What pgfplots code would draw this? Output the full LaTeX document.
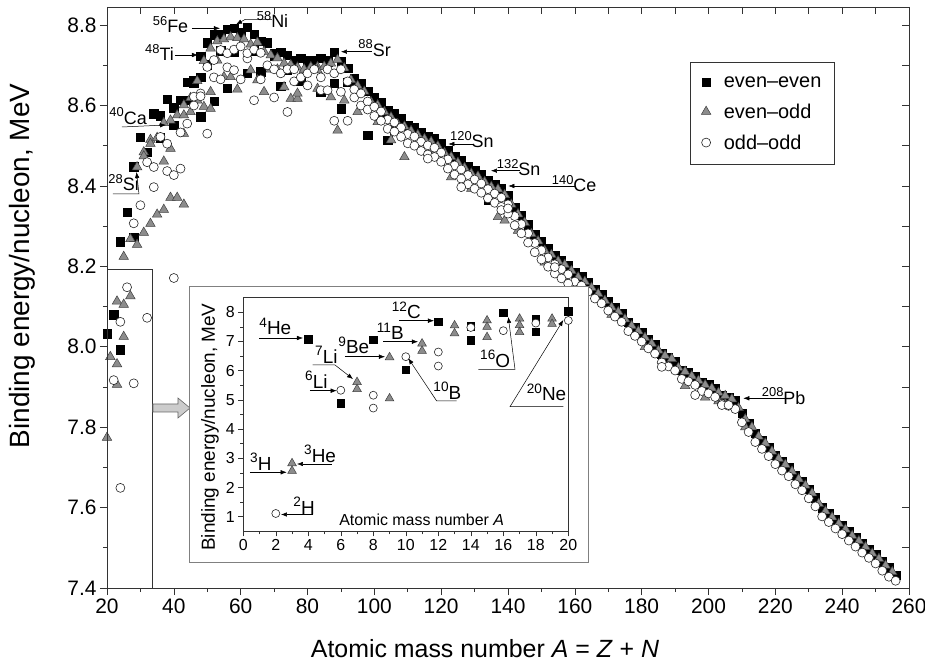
\documentclass[border=0pt]{standalone}
\usepackage{fontspec}
\setmainfont{Liberation Sans}
\usepackage{graphicx}
\usepackage{pgfplots}
\pgfplotsset{compat=1.18}
\usetikzlibrary{arrows.meta}

\definecolor{frame}{gray}{0.2}
\definecolor{trifill}{gray}{0.55}
\newcommand{\fs}[1]{\fontsize{#1}{#1}\selectfont}
\newcommand{\iso}[2]{\raisebox{0.42em}{\scalebox{0.72}{#1}}#2}

\pgfplotsset{
  ee/.style={only marks, mark=square*, mark size=4.2bp, mark options={fill=black, draw=black}},
  eo/.style={only marks, mark=triangle*, mark size=5.5bp, mark options={fill=trifill, draw=black!75, line width=0.5bp}},
  oo/.style={only marks, mark=*, mark size=4.5bp, mark options={fill=white, draw=black!85, line width=0.6bp}},
}

\begin{document}
\begin{tikzpicture}
\useasboundingbox (-107bp,-76bp) rectangle (818bp,588bp);

% main panel
\begin{axis}[
  scale only axis, width=802bp, height=581bp,
  xmin=20, xmax=260, ymin=7.4, ymax=8.845,
  clip=false,
  axis line style={frame, line width=0.6bp},
  xtick={20,40,...,260}, minor xtick={30,50,...,250},
  ytick={7.4,7.6,8.0,8.2,8.4,8.6,8.8,7.8}, minor ytick={7.5,7.7,7.9,8.1,8.3,8.5,8.7},
  tick pos=left, tick align=outside,
  major tick length=7bp, minor tick length=4bp,
  tick style={frame, line width=0.6bp},
  ticklabel style={font=\fs{21}},
  /pgf/number format/assume math mode=true,
  yticklabel style={/pgf/number format/fixed, /pgf/number format/fixed zerofill, /pgf/number format/precision=1},
  legend style={at={(0.727,0.905)}, anchor=north west, draw=frame, line width=0.6bp,
    font=\fs{20}, inner xsep=11bp, inner ysep=12bp, row sep=11bp, column sep=11bp, cells={anchor=west}},
]
% even-even
\addplot[ee] coordinates {
(20,8.032)(22,8.080)(24,7.993)(24,8.261)(26,8.334)(28,8.272)(28,8.448)(30,8.521)(32,8.484)(34,8.580)
(36,8.575)(36,8.520)(38,8.615)(40,8.595)(40,8.551)(42,8.613)(44,8.658)(44,8.613)(46,8.663)(46,8.656)
(48,8.671)(48,8.723)(48,8.572)(50,8.756)(50,8.701)(52,8.776)(52,8.610)(54,8.778)(54,8.736)(56,8.790)
(56,8.643)(58,8.792)(58,8.732)(60,8.781)(62,8.795)(62,8.680)(64,8.777)(64,8.736)(66,8.760)(66,8.684)
(68,8.756)(70,8.730)(70,8.722)(72,8.732)(72,8.648)(74,8.725)(74,8.688)(76,8.711)(76,8.705)(78,8.718)
(78,8.661)(80,8.711)(80,8.693)(82,8.711)(82,8.693)(84,8.717)(84,8.634)(86,8.712)(86,8.708)(88,8.733)
(88,8.655)(90,8.710)(90,8.592)(92,8.693)(92,8.658)(94,8.667)(94,8.662)(96,8.654)(96,8.635)(98,8.635)
(98,8.526)(100,8.619)(100,8.605)(102,8.607)(102,8.581)(104,8.587)(104,8.514)(106,8.580)(106,8.539)
(108,8.567)(108,8.550)(110,8.551)(112,8.545)(114,8.532)(116,8.523)(118,8.517)(120,8.505)(122,8.488)
(124,8.473)(126,8.463)(128,8.449)(130,8.438)(132,8.428)(134,8.414)(134,8.366)(136,8.403)(138,8.393)
(140,8.376)(142,8.347)(144,8.327)(146,8.304)(148,8.280)(150,8.262)(152,8.244)(154,8.227)(156,8.215)
(158,8.202)(160,8.184)(162,8.174)(164,8.159)(166,8.142)(168,8.130)(170,8.112)(172,8.097)(174,8.084)
(176,8.061)(178,8.049)(180,8.035)(182,8.018)(184,8.005)(186,7.983)(188,7.973)(190,7.963)(192,7.942)
(194,7.936)(196,7.927)(198,7.912)(200,7.906)(202,7.897)(204,7.880)(206,7.875)(208,7.867)(210,7.834)
(212,7.810)(214,7.785)(216,7.768)(218,7.750)(220,7.730)(222,7.714)(224,7.700)(226,7.680)(228,7.665)
(230,7.645)(232,7.625)(234,7.600)(236,7.586)(238,7.570)(240,7.556)(242,7.540)(244,7.525)(246,7.510)
(248,7.497)(250,7.483)(252,7.465)(254,7.450)(256,7.432)
};
\addlegendentry{even–even}
% even-odd
\addplot[eo] coordinates {
(20,7.774)(21,7.975)(23,7.957)(23,7.906)(23,8.113)(25,8.105)(25,8.025)(27,8.126)(25,8.224)(27,8.268)
(29,8.254)(31,8.284)(33,8.306)(35,8.329)(37,8.341)(39,8.371)(41,8.371)(43,8.354)(29,8.447)(31,8.484)
(31,8.474)(33,8.515)(33,8.505)(35,8.520)(37,8.557)(37,8.461)(39,8.563)(39,8.493)(41,8.576)(43,8.576)
(43,8.530)(45,8.584)(43,8.601)(45,8.619)(47,8.613)
(47,8.661)(49,8.711)(51,8.742)(53,8.760)(55,8.765)(57,8.770)(59,8.768)(61,8.765)(63,8.752)(65,8.757)
(67,8.734)(69,8.725)(71,8.718)(73,8.705)(75,8.701)(77,8.695)(79,8.688)(81,8.696)(83,8.696)(85,8.697)
(87,8.705)(89,8.714)(91,8.693)(93,8.664)(95,8.649)(97,8.635)(99,8.609)(101,8.601)(103,8.584)(105,8.571)
(107,8.554)(109,8.548)(111,8.537)(113,8.527)(115,8.517)(117,8.510)(119,8.499)(121,8.482)(123,8.472)
(125,8.458)(127,8.445)(129,8.431)(131,8.424)(133,8.410)(135,8.398)(137,8.392)(139,8.378)(141,8.354)
(143,8.330)(145,8.309)(147,8.281)(149,8.263)(151,8.239)(153,8.229)(155,8.213)(157,8.204)(159,8.189)
(161,8.173)(163,8.162)(165,8.147)(167,8.132)(169,8.115)(171,8.098)(173,8.087)(175,8.069)(177,8.052)
(179,8.039)(181,8.023)(183,8.008)(185,7.991)(187,7.978)(189,7.970)(191,7.948)(193,7.938)(195,7.927)
(197,7.916)(199,7.905)(201,7.897)(203,7.886)(205,7.878)(207,7.870)(209,7.848)(211,7.820)(213,7.800)
(215,7.777)(217,7.760)(219,7.740)(221,7.722)(223,7.707)(225,7.690)(227,7.671)(229,7.655)(231,7.636)
(233,7.610)(235,7.591)(237,7.576)(239,7.560)(241,7.546)(243,7.530)(245,7.517)(247,7.502)(249,7.486)
(251,7.473)(253,7.456)(255,7.440)
(49,8.597)(51,8.592)(51,8.634)(53,8.712)(55,8.671)(57,8.671)(59,8.640)(63,8.688)(65,8.663)(67,8.634)
(69,8.690)(71,8.690)(73,8.646)(75,8.617)(77,8.617)(77,8.630)(79,8.690)(83,8.642)(83,8.688)(87,8.621)
(89,8.538)(91,8.613)(95,8.584)(101,8.559)(105,8.514)(109,8.472)(113,8.500)(117,8.480)(123,8.422)
(129,8.393)(137,8.323)(139,8.314)(143,8.289)(151,8.210)(157,8.173)(163,8.140)(171,8.080)(181,8.000)
(193,7.903)(199,7.874)(203,7.865)(205,7.858)(211,7.800)
};
\addlegendentry{even–odd}
% odd-odd
\addplot[oo] coordinates {
(22,7.917)(24,7.649)(24,8.062)(26,8.148)(28,7.909)(28,8.307)(30,8.352)(32,8.072)(32,8.459)(34,8.397)
(34,8.447)(36,8.522)(38,8.437)(38,8.505)(40,8.171)(40,8.427)(42,8.443)(42,8.533)(44,8.555)(46,8.600)
(48,8.630)(50,8.530)(46,8.622)(48,8.623)(50,8.696)(52,8.670)(52,8.713)(54,8.665)(54,8.738)(56,8.695)
(56,8.730)(58,8.688)(58,8.739)(60,8.665)(60,8.747)(62,8.717)(62,8.730)(64,8.613)(64,8.739)(66,8.665)
(66,8.731)(68,8.700)(70,8.620)(70,8.690)(72,8.680)(74,8.584)(74,8.690)(76,8.690)(76,8.660)(78,8.670)
(80,8.680)(80,8.650)(82,8.690)(84,8.638)(84,8.670)(86,8.638)(86,8.690)(88,8.562)(88,8.680)(90,8.634)
(90,8.690)(92,8.562)(92,8.660)(94,8.640)(94,8.620)(96,8.630)(96,8.600)(98,8.610)(98,8.590)
(100,8.597)(102,8.585)(104,8.565)(106,8.558)(108,8.545)(110,8.529)(112,8.523)(114,8.510)(116,8.501)
(118,8.495)(120,8.483)(122,8.466)(124,8.451)(126,8.441)(128,8.427)(130,8.416)(132,8.406)(134,8.392)
(136,8.381)(138,8.371)(140,8.354)(142,8.325)(144,8.305)(146,8.282)(148,8.258)(150,8.240)(152,8.222)
(154,8.205)(156,8.193)(158,8.180)(160,8.162)(162,8.152)(164,8.137)(166,8.120)(168,8.108)(170,8.090)
(172,8.075)(174,8.062)(176,8.039)(178,8.027)(180,8.013)(182,7.996)(184,7.983)(186,7.961)(188,7.951)
(190,7.941)(192,7.920)(194,7.914)(196,7.905)(198,7.890)(200,7.884)(202,7.875)(204,7.858)(206,7.853)
(208,7.845)(210,7.812)(212,7.788)(214,7.763)(216,7.746)(218,7.728)(220,7.708)(222,7.692)(224,7.678)
(226,7.658)(228,7.643)(230,7.623)(232,7.603)(234,7.578)(236,7.564)(238,7.548)(240,7.534)(242,7.518)
(244,7.503)(246,7.488)(248,7.475)(250,7.461)(252,7.443)(254,7.428)(256,7.418)
(100,8.574)(102,8.562)(104,8.542)(106,8.535)(108,8.522)(110,8.506)(112,8.500)(114,8.487)(116,8.478)
(118,8.472)(120,8.460)(122,8.443)(124,8.428)(126,8.418)(128,8.404)(130,8.393)(132,8.383)(134,8.369)
(136,8.358)(138,8.348)(140,8.331)(142,8.302)(144,8.282)(146,8.259)(148,8.235)(150,8.217)(152,8.199)
(154,8.182)(156,8.170)(158,8.157)(160,8.139)
(116,8.468)(126,8.397)(138,8.340)(140,8.344)(154,8.198)(186,7.950)(196,7.880)(204,7.855)(206,7.855)
};
\addlegendentry{odd–odd}
\end{axis}

% top and right ticks, pointing inwards
\begin{axis}[
  scale only axis, width=802bp, height=581bp,
  xmin=20, xmax=260, ymin=7.4, ymax=8.845,
  axis line style={draw=none},
  xtick={20,30,...,260}, ytick={7.4,7.5,7.6,7.7,7.8,7.9,8.0,8.1,8.2,8.3,8.4,8.5,8.6,8.7,8.8},
  xtick pos=right, ytick pos=right, tick align=inside,
  major tick length=7bp, tick style={frame, line width=0.6bp},
  xticklabels={}, yticklabels={},
]
\end{axis}

\begin{scope}[x=1bp, y=-1bp, shift={(-107bp,588bp)}]
  % axis titles
  \node[font=\fs{25}] at (485,649) {Atomic mass number \textit{A} = \textit{Z} + \textit{N}};
  \node[font=\fs{28}, rotate=90] at (22,266) {Binding energy/nucleon, MeV};
  % region of the inset
  \draw[frame, line width=0.6bp] (107,269) rectangle (152,588);
  \draw[gray!80!black, fill=gray!40, line width=0.6bp]
    (153,404) -- (178,404) -- (178,398) -- (190,408) -- (178,418) -- (178,412) -- (153,412) -- cycle;
  % labels of the main panel
  \begin{scope}[font=\fs{18}, every node/.style={anchor=base west, inner sep=0pt}]
    \node at (152.7,33) {\iso{56}{Fe}};
    \draw[line width=0.5bp, -{Latex[length=6bp,width=4.5bp]}] (192,28.3) -- (220,28.3);
    \node at (256.7,28) {\iso{58}{Ni}};
    \draw[line width=0.5bp, -{Latex[length=6bp,width=4.5bp]}] (272,19.5) -- (245,19.5) -- (236,24.5);
    \node at (145,61) {\iso{48}{Ti}};
    \draw[line width=0.5bp, -{Latex[length=6bp,width=4.5bp]}] (175,55) -- (198,55);
    \node at (358.3,56.5) {\iso{88}{Sr}};
    \draw[line width=0.5bp, -{Latex[length=6bp,width=4.5bp]}] (372,51.7) -- (341,51.7);
    \node at (109.3,124.3) {\iso{40}{Ca}};
    \draw[line width=0.5bp, -{Latex[length=6bp,width=4.5bp]}] (122,127) -- (166,125);
    \node at (108.3,190.7) {\iso{28}{Si}};
    \draw[line width=0.5bp, -{Latex[length=6bp,width=4.5bp]}] (113,194) -- (139,194) -- (136.5,172);
    \node at (450,148) {\iso{120}{Sn}};
    \draw[line width=0.5bp, -{Latex[length=6bp,width=4.5bp]}] (473.3,144) -- (448.3,144);
    \node at (496.7,176) {\iso{132}{Sn}};
    \draw[line width=0.5bp, -{Latex[length=6bp,width=4.5bp]}] (520,170.7) -- (491,170.7);
    \node at (551.7,192) {\iso{140}{Ce}};
    \draw[line width=0.5bp, -{Latex[length=6bp,width=4.5bp]}] (575,186) -- (508.3,186);
    \node at (761.7,404.5) {\iso{208}{Pb}};
    \draw[line width=0.5bp, -{Latex[length=6bp,width=4.5bp]}] (786.7,398.3) -- (743.3,398.3);
  \end{scope}
  % box of the inset
  \draw[gray, fill=white, line width=0.6bp] (189,286) rectangle (588,562);
  \node[font=\fs{19}, rotate=90] at (210,427) {Binding energy/nucleon, MeV};
  \node[font=\fs{16}] at (421.7,520) {Atomic mass number \textit{A}};
\end{scope}

% inset: light nuclei
\begin{axis}[
  at={(136.3bp,56.7bp)}, anchor=south west,
  scale only axis, width=325bp, height=233.6bp,
  xmin=0, xmax=20, ymin=0.5, ymax=8.5,
  clip=false,
  axis line style={frame, line width=0.6bp},
  xtick={0,2,...,20}, minor xtick={1,3,...,19},
  ytick={1,2,...,8}, minor ytick={1.5,2.5,...,7.5},
  tick pos=left, tick align=outside,
  major tick length=5bp, minor tick length=3bp,
  tick style={frame, line width=0.6bp},
  ticklabel style={font=\fs{16}},
  /pgf/number format/assume math mode=true,
  ee/.append style={mark size=3.8bp},
  eo/.append style={mark size=5bp},
  oo/.append style={mark size=4bp},
]
\addplot[ee] coordinates {
(4,7.07)(6,4.88)(8,7.06)(10,6.03)(12,7.68)(14,7.05)(14,7.52)(16,7.98)(18,7.77)(18,7.34)(20,8.03)
};
\addplot[eo] coordinates {
(3,2.83)(3,2.57)(7,5.61)(7,5.37)(9,6.46)(9,5.05)(11,6.93)(11,6.68)(13,7.55)(13,7.28)(15,7.72)
(15,7.50)(15,7.15)(17,7.78)(17,7.56)(17,7.32)(19,7.78)(19,7.60)
};
\addplot[oo] coordinates {
(2,1.11)(6,5.33)(8,5.16)(8,4.72)(10,6.48)(12,6.64)(12,6.16)(14,7.48)(16,7.37)(18,7.63)(20,7.72)
};
\end{axis}

% labels of the inset
\begin{scope}[x=1bp, y=-1bp, shift={(-107bp,588bp)}]
  \begin{scope}[font=\fs{19}, every node/.style={anchor=base west, inner sep=0pt}]
    \node at (259.3,335) {\iso{4}{He}};
    \draw[line width=0.5bp, -{Latex[length=6bp,width=4.5bp]}] (259.3,338) -- (303,338);
    \node at (315,363.3) {\iso{7}{Li}};
    \draw[line width=0.5bp, -{Latex[length=6bp,width=4.5bp]}] (312.7,365) -- (335,365) -- (353,379);
    \node at (338.3,354) {\iso{9}{Be}};
    \draw[line width=0.5bp, -{Latex[length=6bp,width=4.5bp]}] (345,356.7) -- (385,356.7);
    \node at (376.7,340) {\iso{11}{B}};
    \draw[line width=0.5bp, -{Latex[length=6bp,width=4.5bp]}] (383.3,341.7) -- (418,341.7);
    \node at (391.7,319) {\iso{12}{C}};
    \draw[line width=0.5bp, -{Latex[length=6bp,width=4.5bp]}] (399.3,320.7) -- (434,320.7);
    \node at (305,388.3) {\iso{6}{Li}};
    \draw[line width=0.5bp, -{Latex[length=6bp,width=4.5bp]}] (310,390.7) -- (336.7,390.7);
    \node at (433.3,399.3) {\iso{10}{B}};
    \draw[line width=0.5bp, -{Latex[length=6bp,width=4.5bp]}] (456.7,401) -- (436.7,401) -- (408.3,358.3);
    \node at (480,367.7) {\iso{16}{O}};
    \draw[line width=0.5bp, -{Latex[length=6bp,width=4.5bp]}] (478.3,369.3) -- (515,369.3) -- (508.3,317);
    \node at (526.7,401) {\iso{20}{Ne}};
    \draw[line width=0.5bp, -{Latex[length=6bp,width=4.5bp]}] (563.3,406.7) -- (510,406.7) -- (563.3,320);
    \node at (250,470.7) {\iso{3}{H}};
    \draw[line width=0.5bp, -{Latex[length=6bp,width=4.5bp]}] (250,472.3) -- (286.7,472.3);
    \node at (304,462.7) {\iso{3}{He}};
    \draw[line width=0.5bp, -{Latex[length=6bp,width=4.5bp]}] (331.7,464) -- (297,464);
    \node at (293.3,514.3) {\iso{2}{H}};
    \draw[line width=0.5bp, -{Latex[length=6bp,width=4.5bp]}] (313.3,514.5) -- (281,514.5);
  \end{scope}
\end{scope}
\end{tikzpicture}
\end{document}
